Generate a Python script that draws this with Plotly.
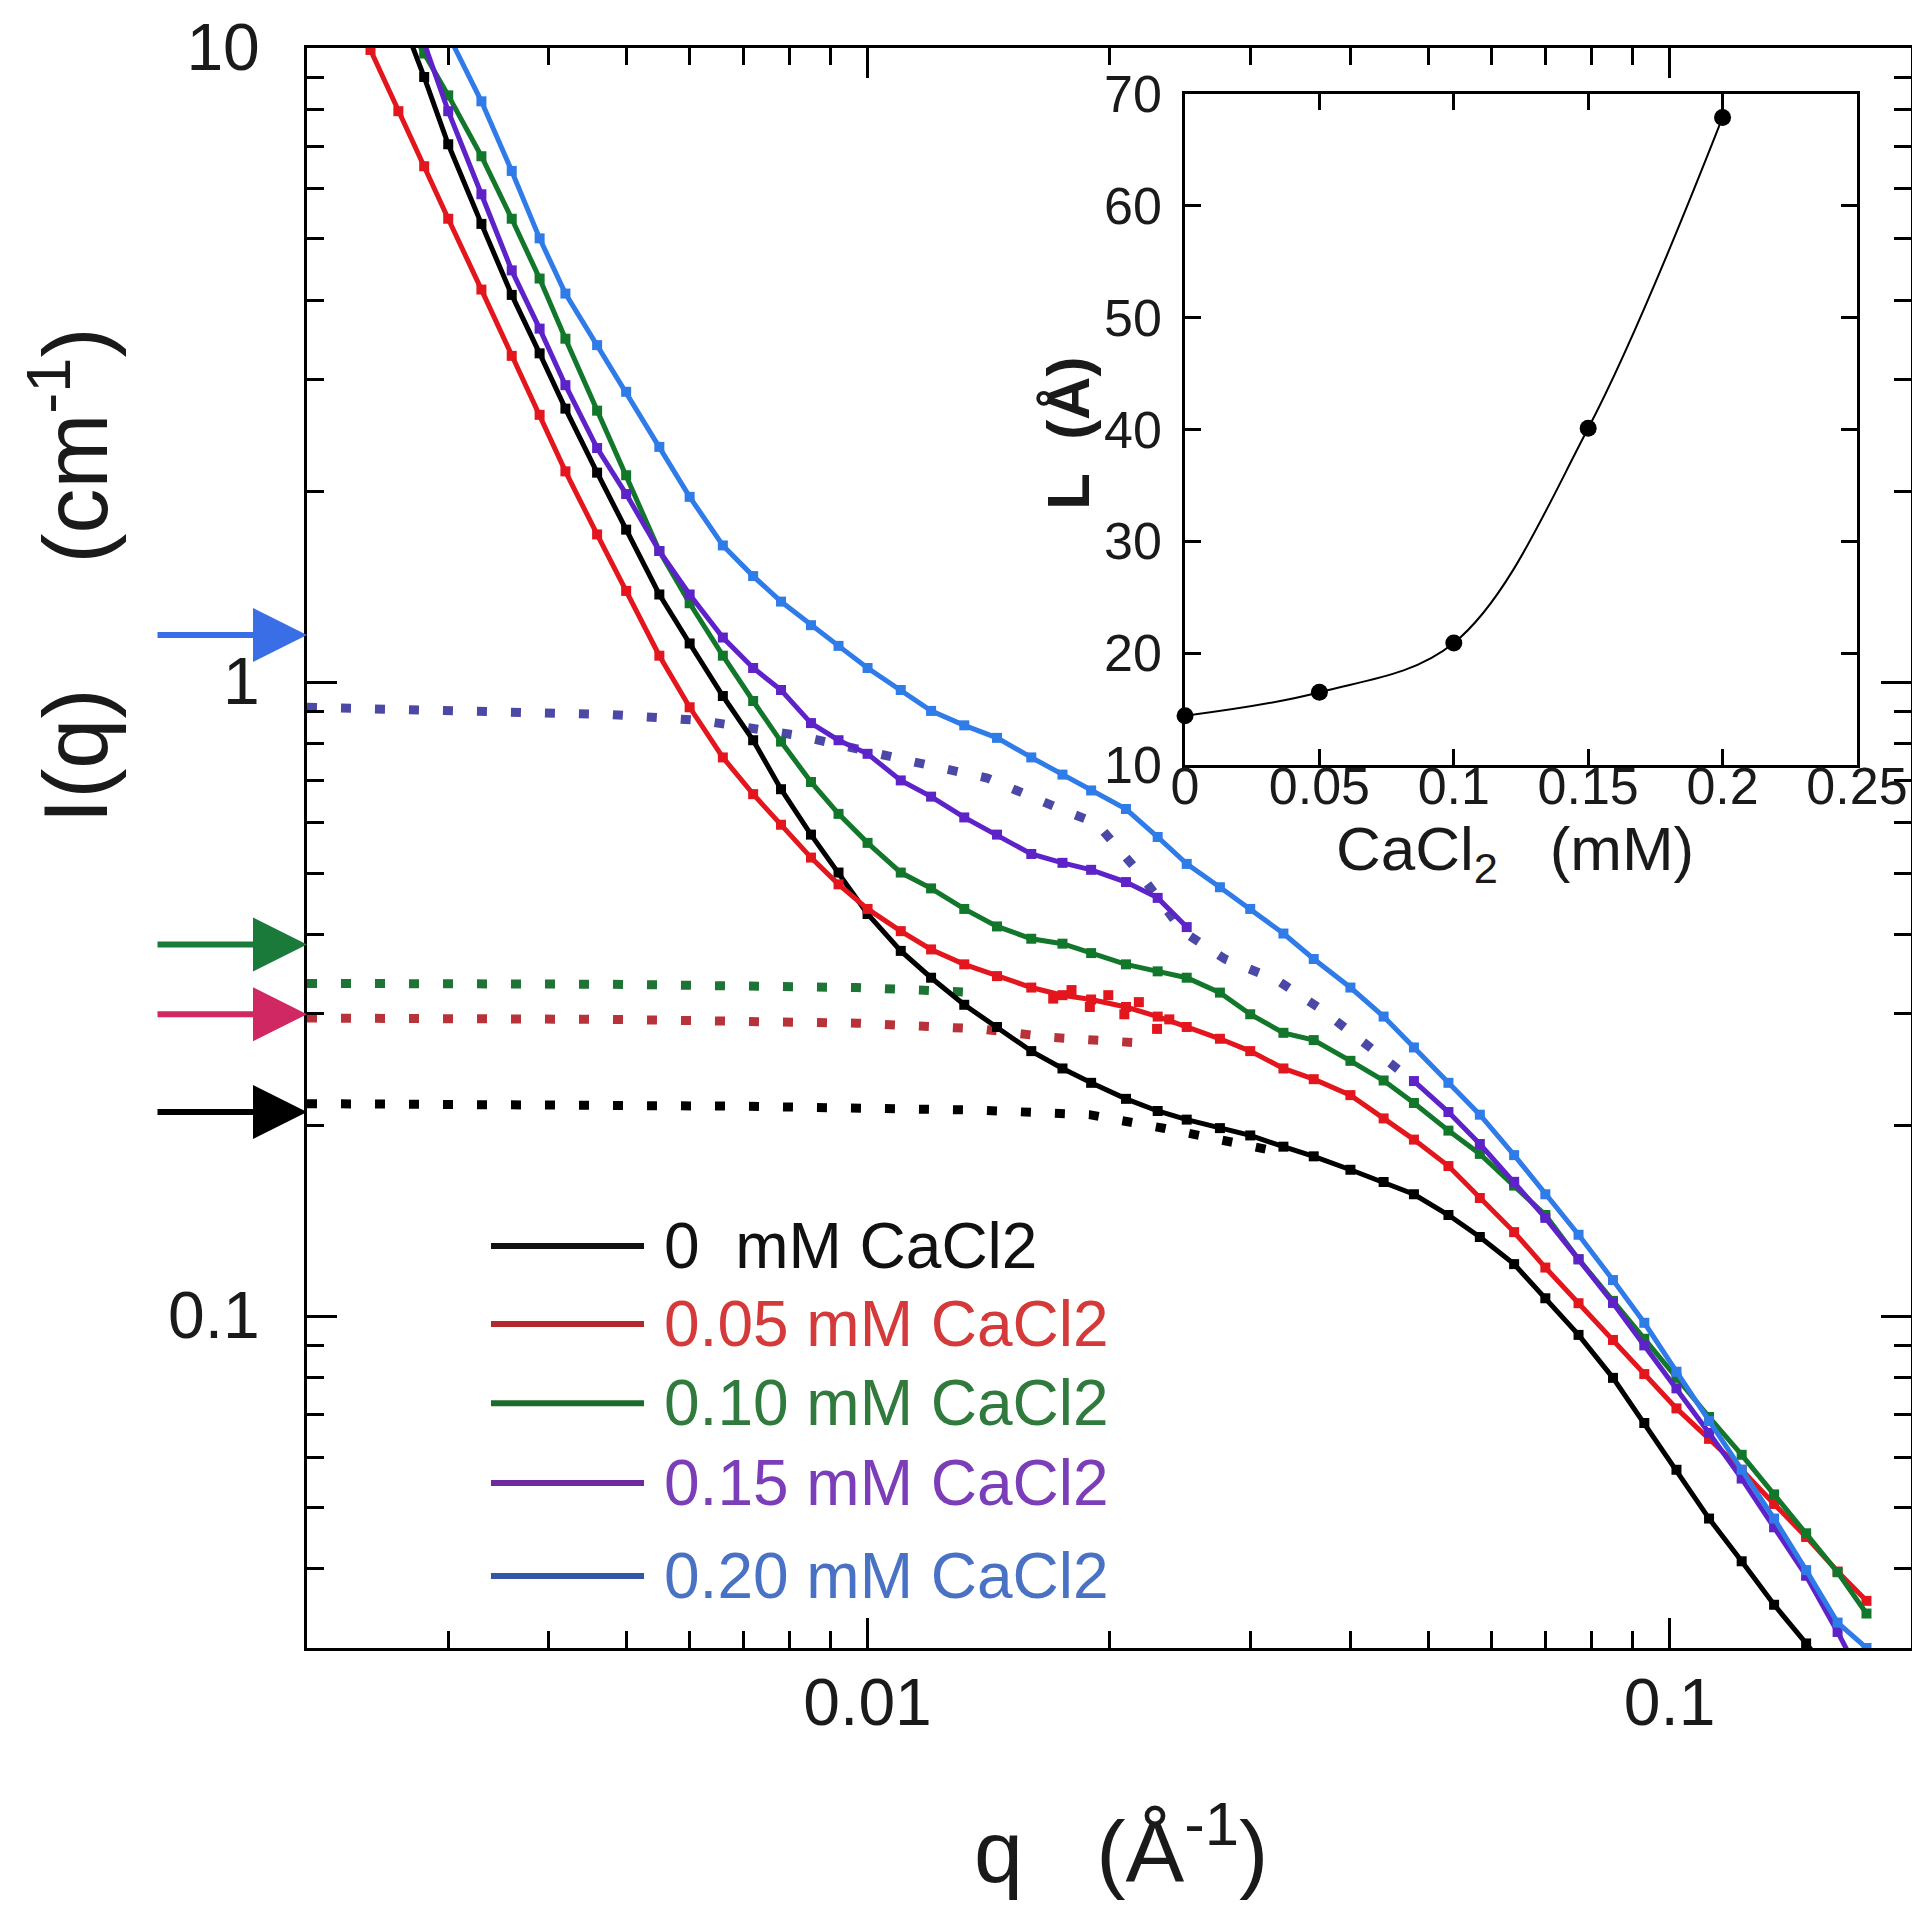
import math
import plotly.graph_objects as go

# ---------------- data ----------------
q = [0.0024, 0.0026, 0.0028, 0.0030, 0.0033, 0.0036, 0.0039, 0.0042, 0.0046, 0.0050,
     0.0055, 0.0060, 0.0066, 0.0072, 0.0078, 0.0085, 0.0092, 0.0100, 0.0110, 0.0120,
     0.0132, 0.0145, 0.0160, 0.0175, 0.0190, 0.0210, 0.0230, 0.0250, 0.0275, 0.0300,
     0.0330, 0.0360, 0.0400, 0.0440, 0.0480, 0.0530, 0.0580, 0.0640, 0.0700, 0.0770,
     0.0850, 0.0930, 0.1020, 0.1120, 0.1230, 0.1350, 0.1480, 0.1620, 0.1760]

I_0mM = [15.3, 11.5, 9.00, 7.05, 5.28, 4.08, 3.30, 2.70, 2.14, 1.74,
         1.375, 1.151, 0.951, 0.810, 0.678, 0.575, 0.501, 0.431, 0.377, 0.342,
         0.310, 0.286, 0.262, 0.246, 0.2335, 0.2203, 0.2108, 0.2043, 0.1981, 0.1929,
         0.1852, 0.1788, 0.1703, 0.1629, 0.1558, 0.1445, 0.1334, 0.1209, 0.1068, 0.0935,
         0.0800, 0.0679, 0.0573, 0.0480, 0.0411, 0.0351, 0.0305, 0.0264, 0.0228]

I_005mM = [9.93, 7.95, 6.51, 5.38, 4.16, 3.27, 2.64, 2.15, 1.71, 1.393,
           1.101, 0.913, 0.761, 0.666, 0.596, 0.529, 0.480, 0.439, 0.405, 0.379,
           0.359, 0.344, 0.330, 0.321, 0.316, 0.3075, 0.297, 0.286, 0.274, 0.262,
           0.246, 0.2366, 0.2233, 0.2052, 0.190, 0.1726, 0.1537, 0.1358, 0.1194, 0.1049,
           0.0918, 0.0811, 0.0716, 0.0641, 0.0573, 0.0506, 0.0449, 0.0396, 0.0356]

I_010mM = [13.8, 11.5, 9.80, 8.42, 6.75, 5.38, 4.33, 3.48, 2.68, 2.12,
           1.61, 1.332, 1.101, 0.934, 0.806, 0.696, 0.620, 0.558, 0.501, 0.473,
           0.439, 0.412, 0.394, 0.387, 0.374, 0.359, 0.350, 0.342, 0.324, 0.2995,
           0.280, 0.2727, 0.2529, 0.2355, 0.217, 0.1963, 0.1804, 0.1608, 0.1445, 0.1231,
           0.1058, 0.0922, 0.0800, 0.0694, 0.0605, 0.0524, 0.0455, 0.0395, 0.0340]

I_015mM = [17.7, 13.3, 10.24, 7.95, 5.88, 4.46, 3.61, 2.94, 2.34, 1.98,
           1.61, 1.375, 1.176, 1.053, 0.972, 0.862, 0.810, 0.771, 0.700, 0.660,
           0.612, 0.575, 0.536, 0.519, 0.506, 0.484, 0.457, 0.411, None, None,
           None, None, None, None, 0.235, 0.210, 0.187, 0.163, 0.143, 0.123,
           0.105, 0.090, 0.077, 0.0655, 0.0555, 0.0465, 0.039, 0.0318, 0.026]

I_020mM = [18.5, 15.1, 12.5, 10.47, 8.24, 6.40, 5.01, 4.10, 3.40, 2.87,
           2.35, 1.96, 1.643, 1.47, 1.34, 1.23, 1.141, 1.053, 0.972, 0.901,
           0.855, 0.817, 0.761, 0.715, 0.675, 0.631, 0.570, 0.517, 0.475, 0.439,
           0.4015, 0.366, 0.330, 0.297, 0.2655, 0.2335, 0.208, 0.1796, 0.1558, 0.1345,
           0.1141, 0.0977, 0.0818, 0.0684, 0.0573, 0.0480, 0.0398, 0.0329, 0.0300]

# extra scattered points of the 0.05 mM data in the overlap region
q_005_extra = [0.01704, 0.01796, 0.01893, 0.01996, 0.0209, 0.02179, 0.02296, 0.02378]
I_005_extra = [0.317, 0.327, 0.3075, 0.321, 0.2995, 0.313, 0.284, 0.294]

# dotted model curves
guide_q_015 = [0.002, 0.0034, 0.0048, 0.0062, 0.0082, 0.0113, 0.0141, 0.0174,
               0.0193, 0.0218, 0.0247, 0.0279, 0.0324, 0.0369, 0.0412, 0.0481]
guide_I_015 = [0.913, 0.901, 0.889, 0.870, 0.824, 0.751, 0.706, 0.631,
               0.599, 0.501, 0.405, 0.366, 0.339, 0.304, 0.273, 0.234]
guide_q_010 = [0.002, 0.0048, 0.0097, 0.0138]
guide_I_010 = [0.335, 0.334, 0.330, 0.324]
guide_q_005 = [0.002, 0.0048, 0.0097, 0.0138, 0.0170, 0.0214]
guide_I_005 = [0.2954, 0.294, 0.290, 0.284, 0.2753, 0.2703]
guide_q_0 = [0.002, 0.0069, 0.0137, 0.0189, 0.0234, 0.0288, 0.0324]
guide_I_0 = [0.2165, 0.2145, 0.2115, 0.208, 0.198, 0.188, 0.182]

# arrow levels on the left of the main axis
arrow_levels = [1.187, 0.386, 0.2995, 0.210]

# inset
inset_CaCl2 = [0, 0.05, 0.1, 0.15, 0.2]
inset_L = [14.4, 16.5, 20.9, 40.1, 67.9]

series_names = ["0\u00a0\u00a0mM CaCl2", "0.05 mM CaCl2", "0.10 mM CaCl2",
                "0.15 mM CaCl2", "0.20 mM CaCl2"]

x_major = [0.01, 0.1]
x_major_text = ["0.01", "0.1"]
x_minor = [0.003, 0.004, 0.005, 0.006, 0.007, 0.008, 0.009,
           0.02, 0.03, 0.04, 0.05, 0.06, 0.07, 0.08, 0.09]
y_major = [0.1, 1, 10]
y_major_text = ["0.1", "1", "10"]
y_minor = [0.04, 0.05, 0.06, 0.07, 0.08, 0.09,
           0.2, 0.3, 0.4, 0.5, 0.6, 0.7, 0.8, 0.9,
           2, 3, 4, 5, 6, 7, 8, 9]
inset_x_ticks = [0, 0.05, 0.1, 0.15, 0.2, 0.25]
inset_x_text = ["0", "0.05", "0.1", "0.15", "0.2", "0.25"]
inset_y_ticks = [10, 20, 30, 40, 50, 60, 70]

# ---------------- styling ----------------
FONT = "Liberation Sans, Arial, Helvetica, sans-serif"
W, H = 1920, 1906
ML, MT = 299, 40
PW, PH = 1604, 1600
MR = W - ML - PW
MB = H - MT - PH

line_colors = ["#000000", "#e3161d", "#12772a", "#5e22c9", "#2f7be8"]
legend_line_colors = ["#111111", "#b3272d", "#1d6b2b", "#6b2aa0", "#3556a8"]
legend_text_colors = ["#111111", "#d43a3a", "#2f7a3c", "#7b3db8", "#4a72c4"]
guide_colors = ["#4b48a6", "#1d7434", "#b8323a", "#000000"]
arrow_colors = ["#3a6ee6", "#1a7a3a", "#d02862", "#000000"]

fig = go.Figure()

# dotted model curves
for gq, gI, col in [(guide_q_015, guide_I_015, guide_colors[0]),
                    (guide_q_010, guide_I_010, guide_colors[1]),
                    (guide_q_005, guide_I_005, guide_colors[2]),
                    (guide_q_0, guide_I_0, guide_colors[3])]:
    fig.add_trace(go.Scatter(x=gq, y=gI, mode="lines",
                             line=dict(color=col, width=9, dash="10px,24px"),
                             showlegend=False, hoverinfo="skip"))

# data series
all_I = [I_0mM, I_005mM, I_010mM, I_015mM, I_020mM]
for Iv, col, name in zip(all_I, line_colors, series_names):
    fig.add_trace(go.Scatter(x=q, y=Iv, mode="lines+markers", name=name,
                             line=dict(color=col, width=5),
                             marker=dict(symbol="square", size=10, color=col),
                             connectgaps=False, showlegend=False))

fig.add_trace(go.Scatter(x=q_005_extra, y=I_005_extra, mode="markers",
                         marker=dict(symbol="square", size=10, color=line_colors[1]),
                         showlegend=False))

# inset
fig.add_trace(go.Scatter(x=inset_CaCl2, y=inset_L, mode="lines+markers",
                         line=dict(color="black", width=2, shape="spline"),
                         marker=dict(symbol="circle", size=17, color="black"),
                         cliponaxis=False, xaxis="x2", yaxis="y2", showlegend=False))

axis_common = dict(showline=True, linecolor="black", mirror="allticks",
                   showgrid=False, zeroline=False, ticks="inside", tickcolor="black",
                   automargin=False)

fig.update_layout(
    width=W, height=H, autosize=False,
    margin=dict(l=ML, r=MR, t=MT, b=MB, pad=0),
    paper_bgcolor="white", plot_bgcolor="white",
    showlegend=False,
    font=dict(family=FONT, color="#1a1a1a"),
    xaxis=dict(type="log", range=[math.log10(0.002), math.log10(0.2)],
               tickmode="array", tickvals=x_major, ticktext=x_major_text,
               ticklen=30, tickwidth=3, linewidth=3,
               tickfont=dict(size=66, family=FONT, color="#1a1a1a"),
               ticklabelstandoff=-5,
               minor=dict(tickmode="array", tickvals=x_minor, ticks="inside",
                          ticklen=17, tickwidth=3, tickcolor="black", showgrid=False),
               domain=[0, 1], anchor="y", **axis_common),
    yaxis=dict(type="log", range=[math.log10(0.03), math.log10(10)],
               tickmode="array", tickvals=y_major, ticktext=y_major_text,
               ticklen=30, tickwidth=3, linewidth=3,
               tickfont=dict(size=66, family=FONT, color="#1a1a1a"),
               ticklabelstandoff=31, ticklabelshift=-1,
               ticklabeloverflow="allow",
               minor=dict(tickmode="array", tickvals=y_minor, ticks="inside",
                          ticklen=17, tickwidth=3, tickcolor="black", showgrid=False),
               domain=[0, 1], anchor="x", **axis_common),
    xaxis2=dict(range=[0, 0.25], tickmode="array", tickvals=inset_x_ticks,
                ticktext=inset_x_text, ticklen=16, tickwidth=2.5, linewidth=2.5,
                tickfont=dict(size=52, family=FONT, color="#1a1a1a"),
                ticklabelstandoff=-26, ticklabeloverflow="allow",
                domain=[0.5474, 0.9663], anchor="y2", **axis_common),
    yaxis2=dict(range=[10, 70], tickmode="array", tickvals=inset_y_ticks,
                ticklen=16, tickwidth=2.5, linewidth=2.5,
                tickfont=dict(size=52, family=FONT, color="#1a1a1a"),
                ticklabelstandoff=10, ticklabeloverflow="allow",
                domain=[0.5519, 0.9713], anchor="x2", **axis_common),
)

# axis titles
fig.add_annotation(text="q\u00a0\u00a0\u00a0(\u00c5<sup>-1</sup>)", xref="paper", yref="paper",
                   x=0.5075, y=-0.123, xanchor="center", yanchor="middle",
                   showarrow=False, font=dict(size=88, family=FONT, color="#1a1a1a"))
fig.add_annotation(text="I(q)\u00a0\u00a0\u00a0\u00a0\u00a0(cm<sup>-1</sup>)",
                   xref="paper", yref="paper", x=-0.148, y=0.67, textangle=-90,
                   xanchor="center", yanchor="middle", showarrow=False,
                   font=dict(size=90, family=FONT, color="#1a1a1a"))
fig.add_annotation(text="<b>L\u00a0\u00a0(\u00c5)</b>", xref="paper", yref="paper",
                   x=0.475, y=0.7594, textangle=-90, xanchor="center", yanchor="middle",
                   showarrow=False, font=dict(size=60, family=FONT, color="#1a1a1a"))
fig.add_annotation(text="CaCl<sub>2</sub>\u00a0\u00a0\u00a0(mM)", xref="paper", yref="paper",
                   x=0.753, y=0.497, xanchor="center", yanchor="middle",
                   showarrow=False, font=dict(size=62, family=FONT, color="#1a1a1a"))

# arrows on the left
for lvl, col in zip(arrow_levels, arrow_colors):
    fig.add_annotation(x=0, xref="paper", y=math.log10(lvl), yref="y",
                       ax=-151, ay=0, axref="pixel", ayref="pixel", text="",
                       showarrow=True, arrowhead=2, arrowsize=1.8, arrowwidth=6,
                       arrowcolor=col, standoff=0)

# legend (drawn by hand to keep long line samples)
legend_rows = [0.25125, 0.2025, 0.153, 0.1031, 0.045]
for name, lc, tc, yr in zip(series_names, legend_line_colors, legend_text_colors, legend_rows):
    fig.add_shape(type="line", xref="paper", yref="paper", x0=0.1147, x1=0.2101,
                  y0=yr, y1=yr, line=dict(color=lc, width=6))
    fig.add_annotation(text=name, xref="paper", yref="paper", x=0.2213, y=yr,
                       xanchor="left", yanchor="middle", showarrow=False,
                       font=dict(size=64, family=FONT, color=tc))

fig.write_html("out.html")
